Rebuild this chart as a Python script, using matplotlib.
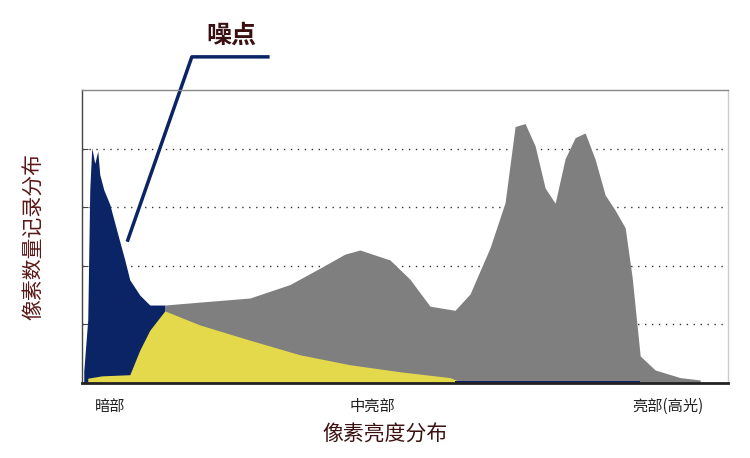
import matplotlib.pyplot as plt
import numpy as np

plt.rcParams['font.family'] = ['Noto Sans CJK SC', 'DejaVu Sans']

# brightness position (0..646) and pixel counts (0..5)
gray_x = [83, 118, 168, 208, 238, 263, 278, 308, 328, 348, 373, 388, 408, 423, 433, 443,
          453, 463, 473, 483, 493, 503, 513, 523, 533, 543, 550, 558, 573, 598, 618]
gray_y = [1.33, 1.38, 1.45, 1.68, 1.96, 2.2, 2.27, 2.1, 1.77, 1.31, 1.24, 1.52, 2.31, 3.08,
          4.38, 4.43, 4.05, 3.33, 3.07, 3.83, 4.19, 4.27, 3.82, 3.21, 2.95, 2.65, 1.8, 0.46,
          0.22, 0.09, 0.05]
navy_x = [2, 6, 8, 10, 13, 14, 16, 18, 22, 28, 36, 43, 48, 58, 68, 78, 83]
navy_y = [0.2, 1.08, 3.3, 4.02, 3.75, 3.82, 3.96, 3.56, 3.3, 3.05, 2.54, 2.1, 1.76, 1.5, 1.33, 1.33, 1.33]
yellow_x = [6, 20, 48, 58, 68, 83, 118, 168, 218, 268, 318, 368, 378]
yellow_y = [0.08, 0.12, 0.14, 0.56, 0.9, 1.23, 0.99, 0.73, 0.48, 0.31, 0.19, 0.09, 0.02]
navy_strip_x = [373, 558]
navy_strip_y = [0.03, 0.03]

fig = plt.figure(figsize=(7.5, 4.58), dpi=100)
ax = fig.add_axes([0.109, 0.164, 0.862, 0.639])

ax.fill_between(gray_x, gray_y, color='#7f7f7f', lw=0)
ax.fill_between(navy_x, navy_y, color='#0b2466', lw=0)
ax.fill_between(yellow_x, yellow_y, color='#e4d94a', lw=0)
ax.fill_between(navy_strip_x, navy_strip_y, color='#0b2466', lw=0)

ax.set_xlim(0, 646)
ax.set_ylim(0, 5)
ax.set_yticks([1, 2, 3, 4])
ax.set_yticklabels([])
ax.set_xticks([])
ax.tick_params(axis='y', direction='in', length=4, color='#444444')
for y in [1, 2, 3, 4]:
    ax.axhline(y, color='#333333', ls=(0, (1, 4)), lw=1, zorder=0)
for s in ax.spines.values():
    s.set_color('#444444')
    s.set_linewidth(1)
ax.spines['bottom'].set_linewidth(2)
ax.spines['bottom'].set_color('#222222')
ax.spines['right'].set_color('#cccccc')
ax.spines['top'].set_color('#888888')

# noise annotation
ax.plot([46, 110, 186], [2.44, 5.57, 5.57], color='#0b2466', lw=2.5, clip_on=False)
ax.text(150, 5.72, '噪点', fontsize=18, fontweight='bold', color='#3a1010',
        ha='center', va='bottom')

ax.text(28, -0.25, '暗部', fontsize=11, color='#222222', ha='center', va='top')
ax.text(290, -0.25, '中亮部', fontsize=11, color='#222222', ha='center', va='top')
ax.text(586, -0.25, '亮部(高光)', fontsize=11, color='#222222', ha='center', va='top')
ax.text(303, -0.7, '像素亮度分布', fontsize=15, color='#3a1010', ha='center', va='top')
ax.text(-48, 2.5, '像素数量记录分布', fontsize=15, color='#5a1818', ha='center', va='center',
        rotation=90)

fig.savefig('out.png', dpi=100)
